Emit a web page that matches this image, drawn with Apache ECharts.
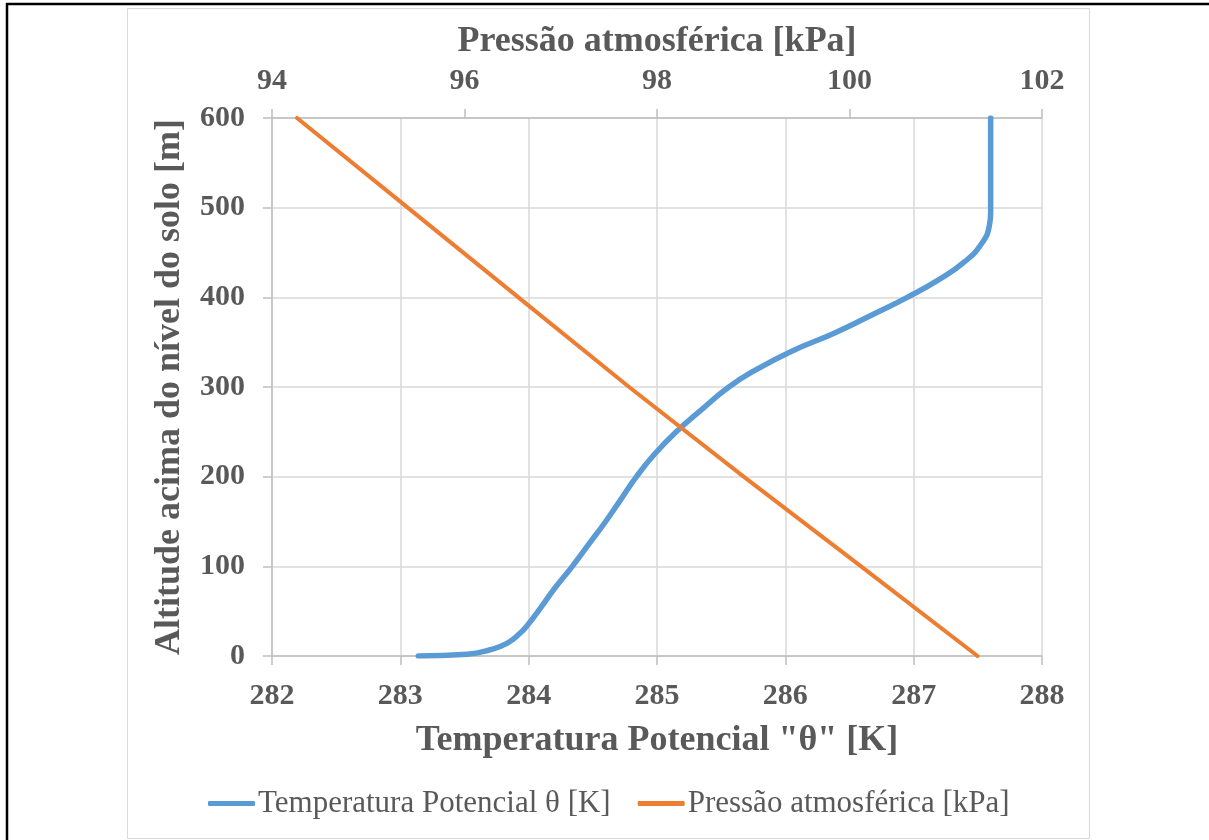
<!DOCTYPE html>
<html>
<head>
<meta charset="utf-8">
<script src="https://cdn.jsdelivr.net/npm/echarts@6/dist/echarts.min.js"></script>
<style>
  html, body { margin: 0; padding: 0; background: #ffffff; overflow: hidden; }
  #chart { width: 1209px; height: 840px; }
</style>
</head>
<body>
<div id="chart"></div>
<script>
// Potential temperature profile: altitude above ground [m] and theta [K]
const thetaAltitude = [0, 2, 7, 14, 25, 36, 55, 75, 100, 125, 150, 175, 200, 225, 250, 275, 300, 320, 340, 360, 380, 400, 420, 440, 460, 480, 495, 600];
const thetaValues   = [283.14, 283.52, 283.70, 283.83, 283.93, 284.00, 284.10, 284.20, 284.34, 284.47, 284.60, 284.72, 284.84, 284.98, 285.15, 285.35, 285.56, 285.78, 286.05, 286.38, 286.67, 286.95, 287.20, 287.40, 287.53, 287.59, 287.60, 287.60];

// Atmospheric pressure profile: altitude above ground [m] and pressure [kPa]
const pressureAltitude = [0, 100, 200, 300, 400, 500, 600];
const pressureValues   = [101.33, 100.12, 98.90, 97.71, 96.56, 95.41, 94.26];

// Axis ranges
const thetaAxis    = { min: 282, max: 288, interval: 1 };
const pressureAxis = { min: 94, max: 102, interval: 2 };
const altitudeAxis = { min: 0, max: 600, interval: 100 };

// Labels
const seriesNames = ['Temperatura Potencial \u03b8 [K]', 'Press\u00e3o atmosf\u00e9rica [kPa]'];
const axisTitles = {
  theta: 'Temperatura Potencial "\u03b8" [K]',
  pressure: 'Press\u00e3o atmosf\u00e9rica [kPa]',
  altitude: 'Altitude acima do n\u00edvel do solo [m]'
};

const FONT = 'Liberation Serif, Times New Roman, serif';
const TEXT = '#595959';
const GRID = '#d9d9d9';
const AXIS = '#bfbfbf';

const tickLabel = { fontFamily: FONT, fontWeight: 'bold', fontSize: 30, color: TEXT };
const titleText = { fontFamily: FONT, fontWeight: 'bold', fontSize: 36, color: TEXT };

const chart = echarts.init(document.getElementById('chart'), null, { renderer: 'canvas' });

chart.setOption({
  animation: false,
  backgroundColor: '#ffffff',
  graphic: [
    // outer frame (top and left edges)
    { type: 'line', shape: { x1: 6, y1: 4, x2: 1209, y2: 4 }, style: { stroke: '#000000', lineWidth: 2.5 } },
    { type: 'line', shape: { x1: 7, y1: 3, x2: 7, y2: 840 }, style: { stroke: '#000000', lineWidth: 2.5 } },
    // chart area border
    { type: 'rect', shape: { x: 127.5, y: 8.5, width: 962, height: 830 }, style: { fill: null, stroke: GRID, lineWidth: 1 } }
  ],
  grid: { left: 272, right: 167, top: 118, bottom: 184, containLabel: false },
  legend: {
    left: 203,
    top: 783,
    itemWidth: 47,
    itemHeight: 5,
    itemGap: 27,
    icon: 'roundRect',
    textStyle: { fontFamily: FONT, fontSize: 31, color: TEXT, padding: [0, 0, 0, -2] },
    data: seriesNames
  },
  xAxis: [
    {
      type: 'value',
      position: 'bottom',
      min: thetaAxis.min, max: thetaAxis.max, interval: thetaAxis.interval,
      name: axisTitles.theta,
      nameLocation: 'middle',
      nameGap: 67,
      nameTextStyle: titleText,
      axisLine: { show: true, lineStyle: { color: AXIS, width: 1.5 } },
      axisTick: { show: true, inside: false, length: 9, lineStyle: { color: AXIS, width: 1.5 } },
      axisLabel: Object.assign({ margin: 25 }, tickLabel),
      splitLine: { show: true, lineStyle: { color: GRID, width: 1.5 } }
    },
    {
      type: 'value',
      position: 'top',
      min: pressureAxis.min, max: pressureAxis.max, interval: pressureAxis.interval,
      name: axisTitles.pressure,
      nameLocation: 'middle',
      nameGap: 58,
      nameTextStyle: titleText,
      axisLine: { show: true, lineStyle: { color: AXIS, width: 1.5 } },
      axisTick: { show: true, inside: false, length: 9, lineStyle: { color: AXIS, width: 1.5 } },
      axisLabel: Object.assign({ margin: 22 }, tickLabel),
      splitLine: { show: false }
    }
  ],
  yAxis: {
    type: 'value',
    min: altitudeAxis.min, max: altitudeAxis.max, interval: altitudeAxis.interval,
    name: axisTitles.altitude,
    nameLocation: 'middle',
    nameGap: 84,
    nameTextStyle: titleText,
    axisLine: { show: true, lineStyle: { color: AXIS, width: 1.5 } },
    axisTick: { show: true, inside: false, length: 9, lineStyle: { color: AXIS, width: 1.5 } },
    axisLabel: Object.assign({ margin: 27 }, tickLabel),
    splitLine: { show: true, lineStyle: { color: GRID, width: 1.5 } }
  },
  series: [
    {
      name: seriesNames[0],
      type: 'line',
      xAxisIndex: 0,
      yAxisIndex: 0,
      showSymbol: false,
      symbol: 'none',
      smooth: 0.5,
      color: '#5b9bd5',
      lineStyle: { color: '#5b9bd5', width: 5.5, cap: 'round', join: 'round' },
      data: thetaValues.map((t, i) => [t, thetaAltitude[i]]),
      z: 3
    },
    {
      name: seriesNames[1],
      type: 'line',
      xAxisIndex: 1,
      yAxisIndex: 0,
      showSymbol: false,
      symbol: 'none',
      smooth: false,
      color: '#ed7d31',
      lineStyle: { color: '#ed7d31', width: 4, cap: 'round', join: 'round' },
      data: pressureValues.map((p, i) => [p, pressureAltitude[i]]),
      z: 4
    }
  ]
});
</script>
</body>
</html>
